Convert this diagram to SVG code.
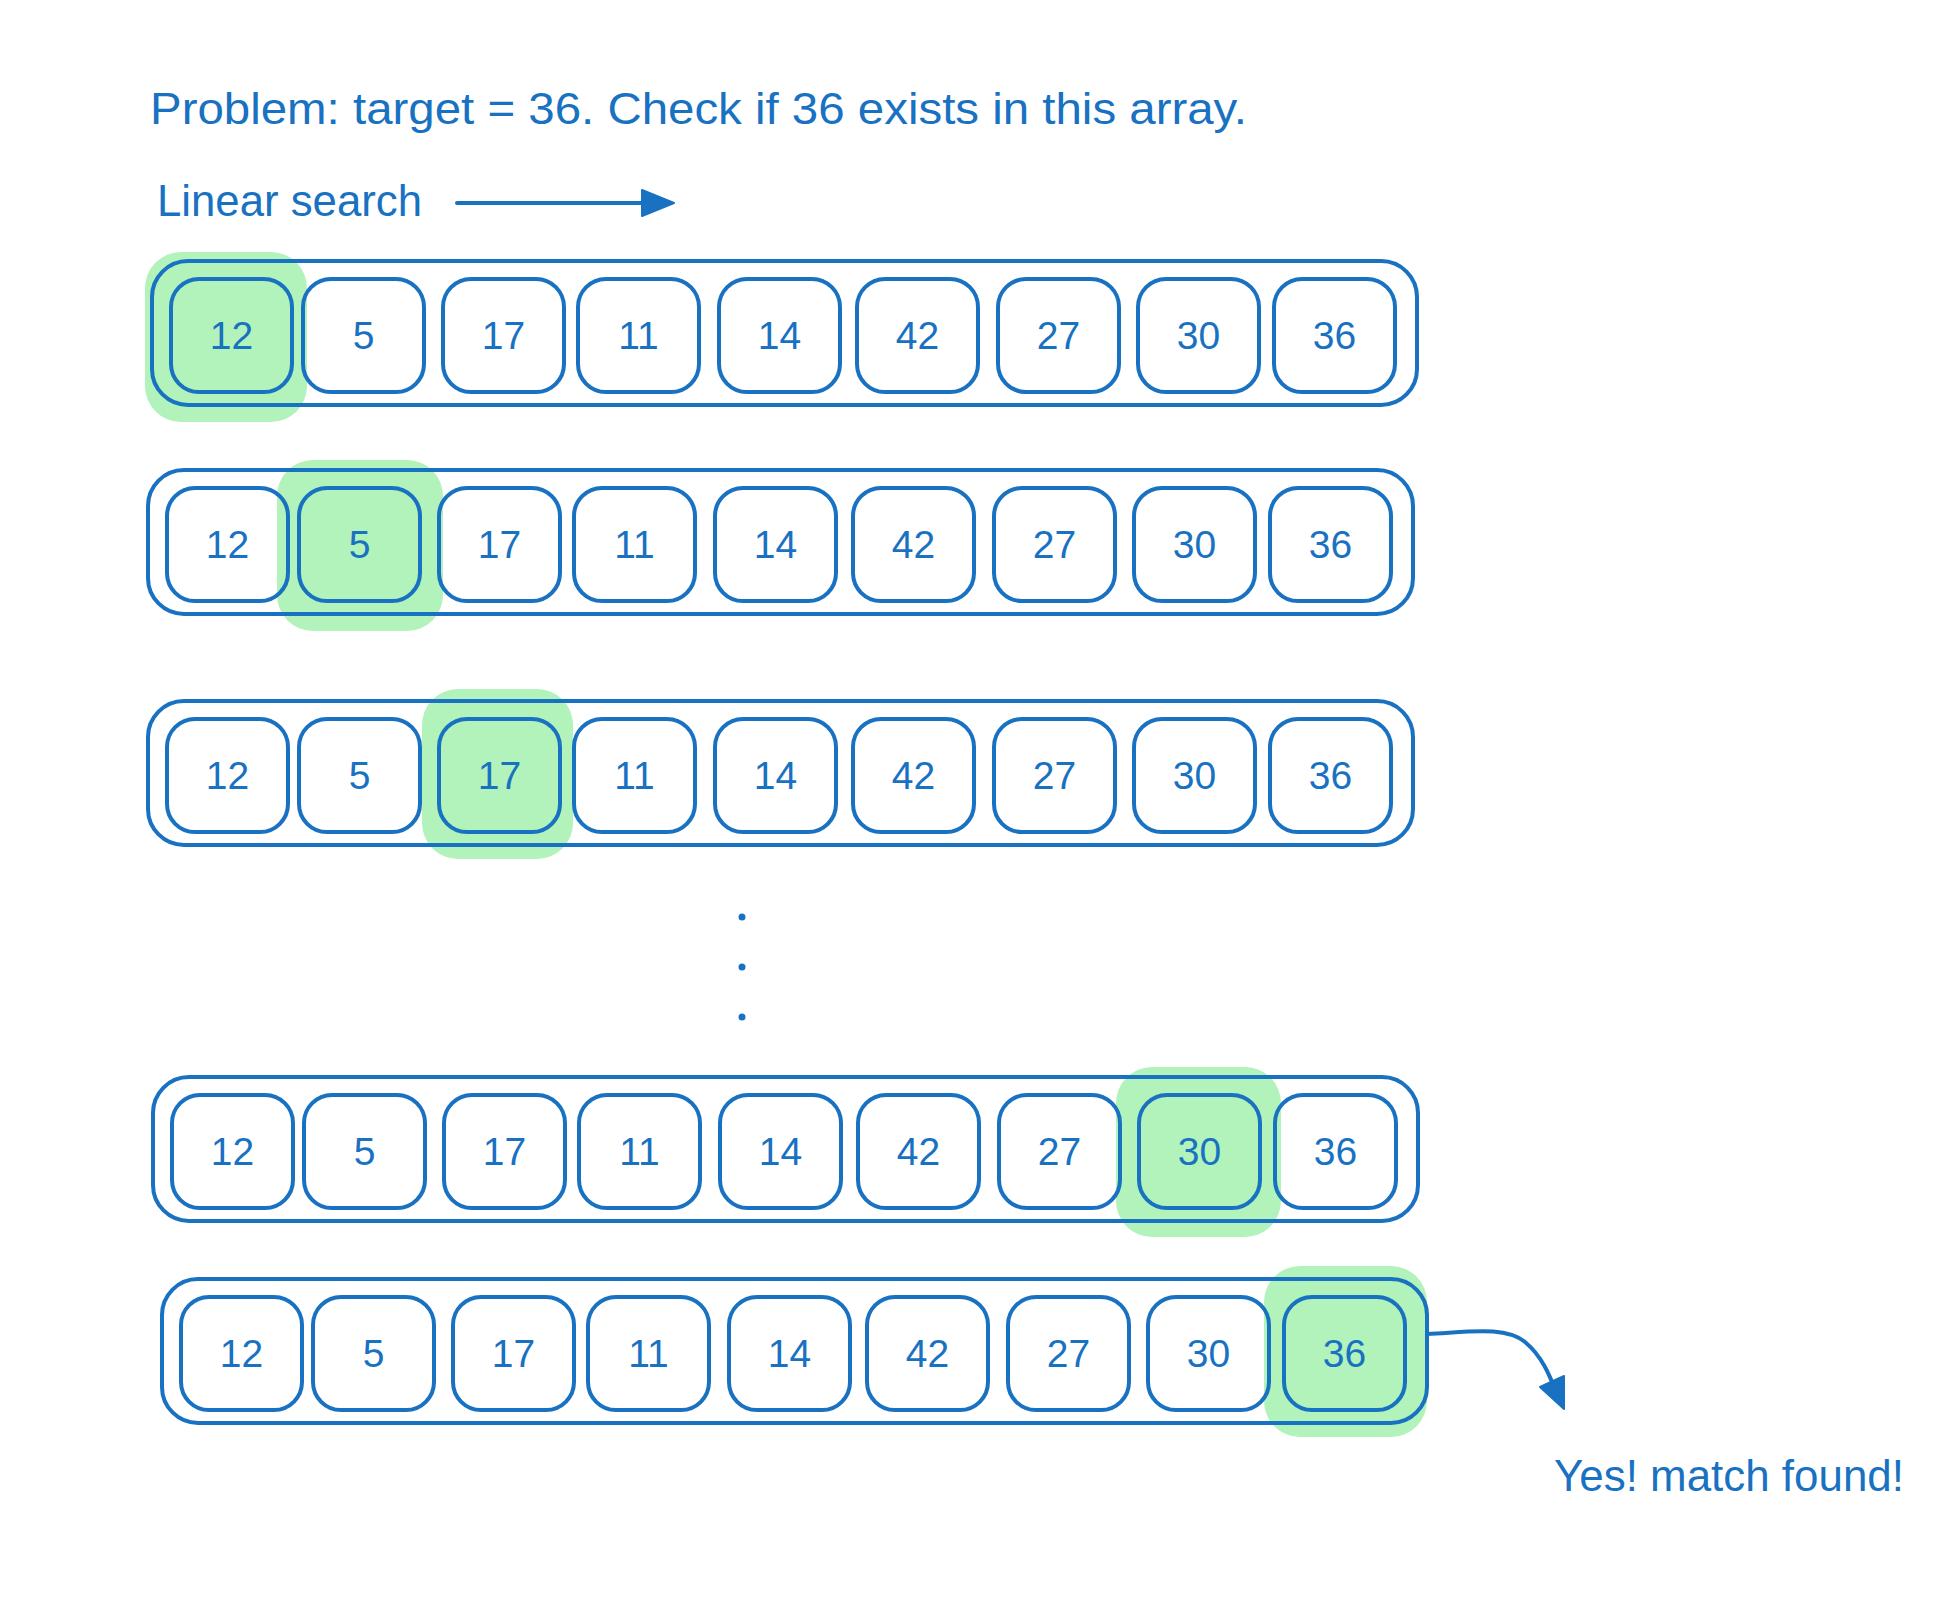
<svg xmlns="http://www.w3.org/2000/svg" width="1956" height="1609" viewBox="0 0 1956 1609">
<style>
.box{fill:none;stroke:#1971c2;stroke-width:4;stroke-linejoin:round}
.hl{fill:#b2f2bb}
.num{font-family:"Liberation Sans",Arial,sans-serif;font-size:39px;fill:#1971c2;text-anchor:middle;dominant-baseline:central}
.lbl{font-family:"Liberation Sans",Arial,sans-serif;font-size:44px;fill:#1971c2}
.line{fill:none;stroke:#1971c2;stroke-width:4;stroke-linecap:round}
.head{fill:#1971c2;stroke:#1971c2;stroke-width:2;stroke-linejoin:round}
.dot{fill:#1971c2}
</style>
<rect width="1956" height="1609" fill="#ffffff"/>

<g id="highlights">
<rect id="hl1" class="hl" x="145" y="252" width="162" height="170" rx="36"/>
<rect id="hl2" class="hl" x="277" y="460" width="166" height="171" rx="36"/>
<rect id="hl3" class="hl" x="422" y="689" width="151" height="170" rx="36"/>
<rect id="hl4" class="hl" x="1116" y="1067" width="165" height="170" rx="36"/>
<rect id="hl5" class="hl" x="1264" y="1266" width="163" height="171" rx="36"/>
</g>

<g id="title"><text class="lbl" x="150" y="124" textLength="1097" lengthAdjust="spacingAndGlyphs">Problem: target = 36. Check if 36 exists in this array.</text></g>
<g id="linear-label"><text class="lbl" x="157" y="216" textLength="265" lengthAdjust="spacingAndGlyphs">Linear search</text></g>
<g id="found-label"><text class="lbl" x="1554" y="1491" textLength="350" lengthAdjust="spacingAndGlyphs">Yes! match found!</text></g>

<g id="row1" transform="translate(152,261)">
<rect class="box" x="0" y="0" width="1265" height="144" rx="36"/>
<g id="r1c1"><rect class="box" x="19" y="18" width="121" height="113" rx="28"/><text class="num" x="79.5" y="74.5">12</text></g>
<g id="r1c2"><rect class="box" x="151" y="18" width="121" height="113" rx="28"/><text class="num" x="211.5" y="74.5">5</text></g>
<g id="r1c3"><rect class="box" x="291" y="18" width="121" height="113" rx="28"/><text class="num" x="351.5" y="74.5">17</text></g>
<g id="r1c4"><rect class="box" x="426" y="18" width="121" height="113" rx="28"/><text class="num" x="486.5" y="74.5">11</text></g>
<g id="r1c5"><rect class="box" x="567" y="18" width="121" height="113" rx="28"/><text class="num" x="627.5" y="74.5">14</text></g>
<g id="r1c6"><rect class="box" x="705" y="18" width="121" height="113" rx="28"/><text class="num" x="765.5" y="74.5">42</text></g>
<g id="r1c7"><rect class="box" x="846" y="18" width="121" height="113" rx="28"/><text class="num" x="906.5" y="74.5">27</text></g>
<g id="r1c8"><rect class="box" x="986" y="18" width="121" height="113" rx="28"/><text class="num" x="1046.5" y="74.5">30</text></g>
<g id="r1c9"><rect class="box" x="1122" y="18" width="121" height="113" rx="28"/><text class="num" x="1182.5" y="74.5">36</text></g>
</g>

<g id="row2" transform="translate(148,470)">
<rect class="box" x="0" y="0" width="1265" height="144" rx="36"/>
<g id="r2c1"><rect class="box" x="19" y="18" width="121" height="113" rx="28"/><text class="num" x="79.5" y="74.5">12</text></g>
<g id="r2c2"><rect class="box" x="151" y="18" width="121" height="113" rx="28"/><text class="num" x="211.5" y="74.5">5</text></g>
<g id="r2c3"><rect class="box" x="291" y="18" width="121" height="113" rx="28"/><text class="num" x="351.5" y="74.5">17</text></g>
<g id="r2c4"><rect class="box" x="426" y="18" width="121" height="113" rx="28"/><text class="num" x="486.5" y="74.5">11</text></g>
<g id="r2c5"><rect class="box" x="567" y="18" width="121" height="113" rx="28"/><text class="num" x="627.5" y="74.5">14</text></g>
<g id="r2c6"><rect class="box" x="705" y="18" width="121" height="113" rx="28"/><text class="num" x="765.5" y="74.5">42</text></g>
<g id="r2c7"><rect class="box" x="846" y="18" width="121" height="113" rx="28"/><text class="num" x="906.5" y="74.5">27</text></g>
<g id="r2c8"><rect class="box" x="986" y="18" width="121" height="113" rx="28"/><text class="num" x="1046.5" y="74.5">30</text></g>
<g id="r2c9"><rect class="box" x="1122" y="18" width="121" height="113" rx="28"/><text class="num" x="1182.5" y="74.5">36</text></g>
</g>

<g id="row3" transform="translate(148,701)">
<rect class="box" x="0" y="0" width="1265" height="144" rx="36"/>
<g id="r3c1"><rect class="box" x="19" y="18" width="121" height="113" rx="28"/><text class="num" x="79.5" y="74.5">12</text></g>
<g id="r3c2"><rect class="box" x="151" y="18" width="121" height="113" rx="28"/><text class="num" x="211.5" y="74.5">5</text></g>
<g id="r3c3"><rect class="box" x="291" y="18" width="121" height="113" rx="28"/><text class="num" x="351.5" y="74.5">17</text></g>
<g id="r3c4"><rect class="box" x="426" y="18" width="121" height="113" rx="28"/><text class="num" x="486.5" y="74.5">11</text></g>
<g id="r3c5"><rect class="box" x="567" y="18" width="121" height="113" rx="28"/><text class="num" x="627.5" y="74.5">14</text></g>
<g id="r3c6"><rect class="box" x="705" y="18" width="121" height="113" rx="28"/><text class="num" x="765.5" y="74.5">42</text></g>
<g id="r3c7"><rect class="box" x="846" y="18" width="121" height="113" rx="28"/><text class="num" x="906.5" y="74.5">27</text></g>
<g id="r3c8"><rect class="box" x="986" y="18" width="121" height="113" rx="28"/><text class="num" x="1046.5" y="74.5">30</text></g>
<g id="r3c9"><rect class="box" x="1122" y="18" width="121" height="113" rx="28"/><text class="num" x="1182.5" y="74.5">36</text></g>
</g>

<g id="ellipsis">
<circle class="dot" cx="742" cy="917" r="3.5"/>
<circle class="dot" cx="742" cy="967" r="3.5"/>
<circle class="dot" cx="742" cy="1017" r="3.5"/>
</g>

<g id="row4" transform="translate(153,1077)">
<rect class="box" x="0" y="0" width="1265" height="144" rx="36"/>
<g id="r4c1"><rect class="box" x="19" y="18" width="121" height="113" rx="28"/><text class="num" x="79.5" y="74.5">12</text></g>
<g id="r4c2"><rect class="box" x="151" y="18" width="121" height="113" rx="28"/><text class="num" x="211.5" y="74.5">5</text></g>
<g id="r4c3"><rect class="box" x="291" y="18" width="121" height="113" rx="28"/><text class="num" x="351.5" y="74.5">17</text></g>
<g id="r4c4"><rect class="box" x="426" y="18" width="121" height="113" rx="28"/><text class="num" x="486.5" y="74.5">11</text></g>
<g id="r4c5"><rect class="box" x="567" y="18" width="121" height="113" rx="28"/><text class="num" x="627.5" y="74.5">14</text></g>
<g id="r4c6"><rect class="box" x="705" y="18" width="121" height="113" rx="28"/><text class="num" x="765.5" y="74.5">42</text></g>
<g id="r4c7"><rect class="box" x="846" y="18" width="121" height="113" rx="28"/><text class="num" x="906.5" y="74.5">27</text></g>
<g id="r4c8"><rect class="box" x="986" y="18" width="121" height="113" rx="28"/><text class="num" x="1046.5" y="74.5">30</text></g>
<g id="r4c9"><rect class="box" x="1122" y="18" width="121" height="113" rx="28"/><text class="num" x="1182.5" y="74.5">36</text></g>
</g>

<g id="row5" transform="translate(162,1279)">
<rect class="box" x="0" y="0" width="1265" height="144" rx="36"/>
<g id="r5c1"><rect class="box" x="19" y="18" width="121" height="113" rx="28"/><text class="num" x="79.5" y="74.5">12</text></g>
<g id="r5c2"><rect class="box" x="151" y="18" width="121" height="113" rx="28"/><text class="num" x="211.5" y="74.5">5</text></g>
<g id="r5c3"><rect class="box" x="291" y="18" width="121" height="113" rx="28"/><text class="num" x="351.5" y="74.5">17</text></g>
<g id="r5c4"><rect class="box" x="426" y="18" width="121" height="113" rx="28"/><text class="num" x="486.5" y="74.5">11</text></g>
<g id="r5c5"><rect class="box" x="567" y="18" width="121" height="113" rx="28"/><text class="num" x="627.5" y="74.5">14</text></g>
<g id="r5c6"><rect class="box" x="705" y="18" width="121" height="113" rx="28"/><text class="num" x="765.5" y="74.5">42</text></g>
<g id="r5c7"><rect class="box" x="846" y="18" width="121" height="113" rx="28"/><text class="num" x="906.5" y="74.5">27</text></g>
<g id="r5c8"><rect class="box" x="986" y="18" width="121" height="113" rx="28"/><text class="num" x="1046.5" y="74.5">30</text></g>
<g id="r5c9"><rect class="box" x="1122" y="18" width="121" height="113" rx="28"/><text class="num" x="1182.5" y="74.5">36</text></g>
</g>

<g id="connectors">
<g id="arrow-linear">
<line class="line" x1="457" y1="203" x2="648" y2="203"/>
<polygon class="head" points="642,190 674,203 642,216"/>
</g>
<g id="arrow-found">
<path class="line" d="M1427,1334 C1470,1332 1505,1326 1525,1342 C1542,1356 1550,1376 1556,1392"/>
<polygon class="head" points="1564,1409 1540,1387 1564,1376"/>
</g>
</g>
</svg>
